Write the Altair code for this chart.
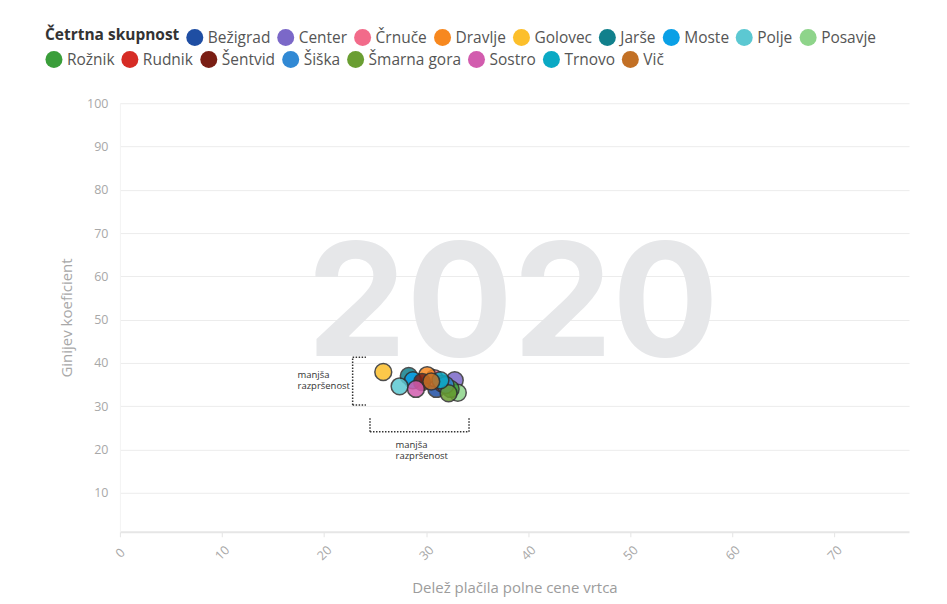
import altair as alt
import pandas as pd

# ---- data ----
skupnosti = ["Bežigrad", "Center", "Črnuče", "Dravlje", "Golovec", "Jarše", "Moste",
             "Polje", "Posavje", "Rožnik", "Rudnik", "Šentvid", "Šiška", "Šmarna gora",
             "Sostro", "Trnovo", "Vič"]
delez = [31.0, 32.8, 30.8, 30.1, 25.8, 28.3, 28.7, 27.4, 33.1, 32.4, 31.6, 29.6, 31.9,
         32.2, 29.0, 31.4, 30.5]
gini = [34.0, 36.0, 36.5, 37.2, 37.9, 37.0, 36.0, 34.6, 33.1, 34.0, 35.2, 35.6, 34.9,
        33.0, 34.0, 36.0, 35.7]
barve = ["#1f4ea3", "#7b68c8", "#f26b8a", "#f7881f", "#fcbf2b", "#11808c", "#0aa0e6",
         "#5cc8d2", "#8ed48a", "#3a9e3a", "#d62c25", "#7a1e14", "#3189d4", "#6a9e32",
         "#d25cae", "#0aa9c4", "#c27025"]

x_ticks = [0, 10, 20, 30, 40, 50, 60, 70]
y_ticks = [10, 20, 30, 40, 50, 60, 70, 80, 90, 100]

# annotation brackets (data coordinates)
seg_x = [22.8, 22.8, 22.8, 24.5, 24.5, 34.2]
seg_x2 = [22.8, 24.1, 24.1, 34.2, 24.5, 34.2]
seg_y = [30.3, 41.3, 30.3, 24.1, 24.1, 24.1]
seg_y2 = [41.3, 41.3, 30.3, 24.1, 27.2, 27.2]

df = pd.DataFrame({"skupnost": skupnosti, "delez": delez, "gini": gini})
seg = pd.DataFrame({"x": seg_x, "x2": seg_x2, "y": seg_y, "y2": seg_y2})

N1 = 9  # entries in the first legend row
df1 = df.iloc[:N1]
df2 = df.iloc[N1:]

FONT = "Open Sans"

xscale = alt.Scale(domain=[0, 77.3], nice=False, zero=False)
yscale = alt.Scale(domain=[1, 100], nice=False, zero=False)

xaxis = alt.Axis(values=x_ticks, labelAngle=315, labelAlign="center", labelBaseline="middle",
                 labelPadding=16, tickSize=5, tickColor="#e4e4e4", domainColor="#e6e6e6",
                 domainWidth=2, grid=False, labelColor="#a8a8a8", labelFontSize=12.5,
                 labelFont=FONT, title="Delež plačila polne cene vrtca", titleColor="#9c9c9c",
                 titleFontSize=15, titleFontWeight="normal", titleFont=FONT, titlePadding=18)
yaxis = alt.Axis(values=y_ticks, grid=True, gridColor="#ececec", domainColor="#f3f3f3",
                 ticks=False, labelPadding=12, labelColor="#a8a8a8", labelFontSize=12.5,
                 labelFont=FONT, title="Ginijev koeficient", titleColor="#a8a8a8",
                 titleFontSize=15, titleFontWeight="normal", titleFont=FONT, titlePadding=12)

common_legend = dict(
    orient="none", legendX=-75, direction="horizontal",
    labelFont=FONT, labelFontSize=15.5, labelColor="#555555", labelOffset=4,
    symbolType="circle", symbolSize=290, symbolStrokeWidth=0, symbolOpacity=1,
    columnPadding=6,
)

watermark = alt.Chart(pd.DataFrame({"t": ["2020"]})).mark_text(
    font="Inter", fontWeight="bold", fontSize=158, color="#e6e7e9", align="center",
    baseline="alphabetic"
).encode(
    x=alt.datum(38.5, scale=xscale, axis=xaxis),
    y=alt.datum(41.6, scale=yscale, axis=yaxis),
    text="t:N",
)

points1 = alt.Chart(df1).mark_circle(size=285, opacity=0.85, stroke="#2f2f2f", strokeWidth=1.5).encode(
    x=alt.X("delez:Q", scale=xscale, axis=xaxis),
    y=alt.Y("gini:Q", scale=yscale, axis=yaxis),
    fill=alt.Fill(
        "skupnost:N",
        scale=alt.Scale(domain=skupnosti[:N1], range=barve[:N1]),
        legend=alt.Legend(
            title="Četrtna skupnost", legendY=-75, titleOrient="left",
            titleAnchor="start", titleFont=FONT, titleFontSize=15.5, titleFontWeight="bold",
            titleColor="#333333", titlePadding=6, titleBaseline="top",
            **common_legend,
        ),
    ),
)

points2 = alt.Chart(df2).mark_circle(size=285, opacity=0.85, stroke="#2f2f2f", strokeWidth=1.5).encode(
    x=alt.X("delez:Q", scale=xscale, axis=xaxis),
    y=alt.Y("gini:Q", scale=yscale, axis=yaxis),
    color=alt.Color(
        "skupnost:N",
        scale=alt.Scale(domain=skupnosti[N1:], range=barve[N1:]),
        legend=alt.Legend(title=None, legendY=-53, **common_legend),
    ),
)

brackets = alt.Chart(seg).mark_rule(color="#333333", strokeWidth=1.5, strokeDash=[1.5, 1.5]).encode(
    x=alt.X("x:Q", scale=xscale, axis=xaxis),
    x2="x2:Q",
    y=alt.Y("y:Q", scale=yscale, axis=yaxis),
    y2="y2:Q",
)

note_left = alt.Chart(pd.DataFrame({"t": ["manjša\nrazpršenost"]})).mark_text(
    font=FONT, fontSize=9.5, color="#333333", align="left", baseline="top",
    lineBreak="\n", lineHeight=11
).encode(x=alt.datum(17.4, scale=xscale), y=alt.datum(38.3, scale=yscale), text="t:N")

note_bottom = alt.Chart(pd.DataFrame({"t": ["manjša\nrazpršenost"]})).mark_text(
    font=FONT, fontSize=9.5, color="#333333", align="left", baseline="top",
    lineBreak="\n", lineHeight=11
).encode(x=alt.datum(27.0, scale=xscale), y=alt.datum(22.2, scale=yscale), text="t:N")

chart = alt.layer(watermark, points1, points2, brackets, note_left, note_bottom).properties(
    width=790, height=429,
    autosize=alt.AutoSizeParams(type="none"),
    padding={"left": 112, "top": 95, "right": 30, "bottom": 70},
    background="white",
).resolve_scale(fill="independent", color="independent").configure_view(stroke=None)

chart.save("out.html", embed_options={"renderer": "svg", "actions": False})
